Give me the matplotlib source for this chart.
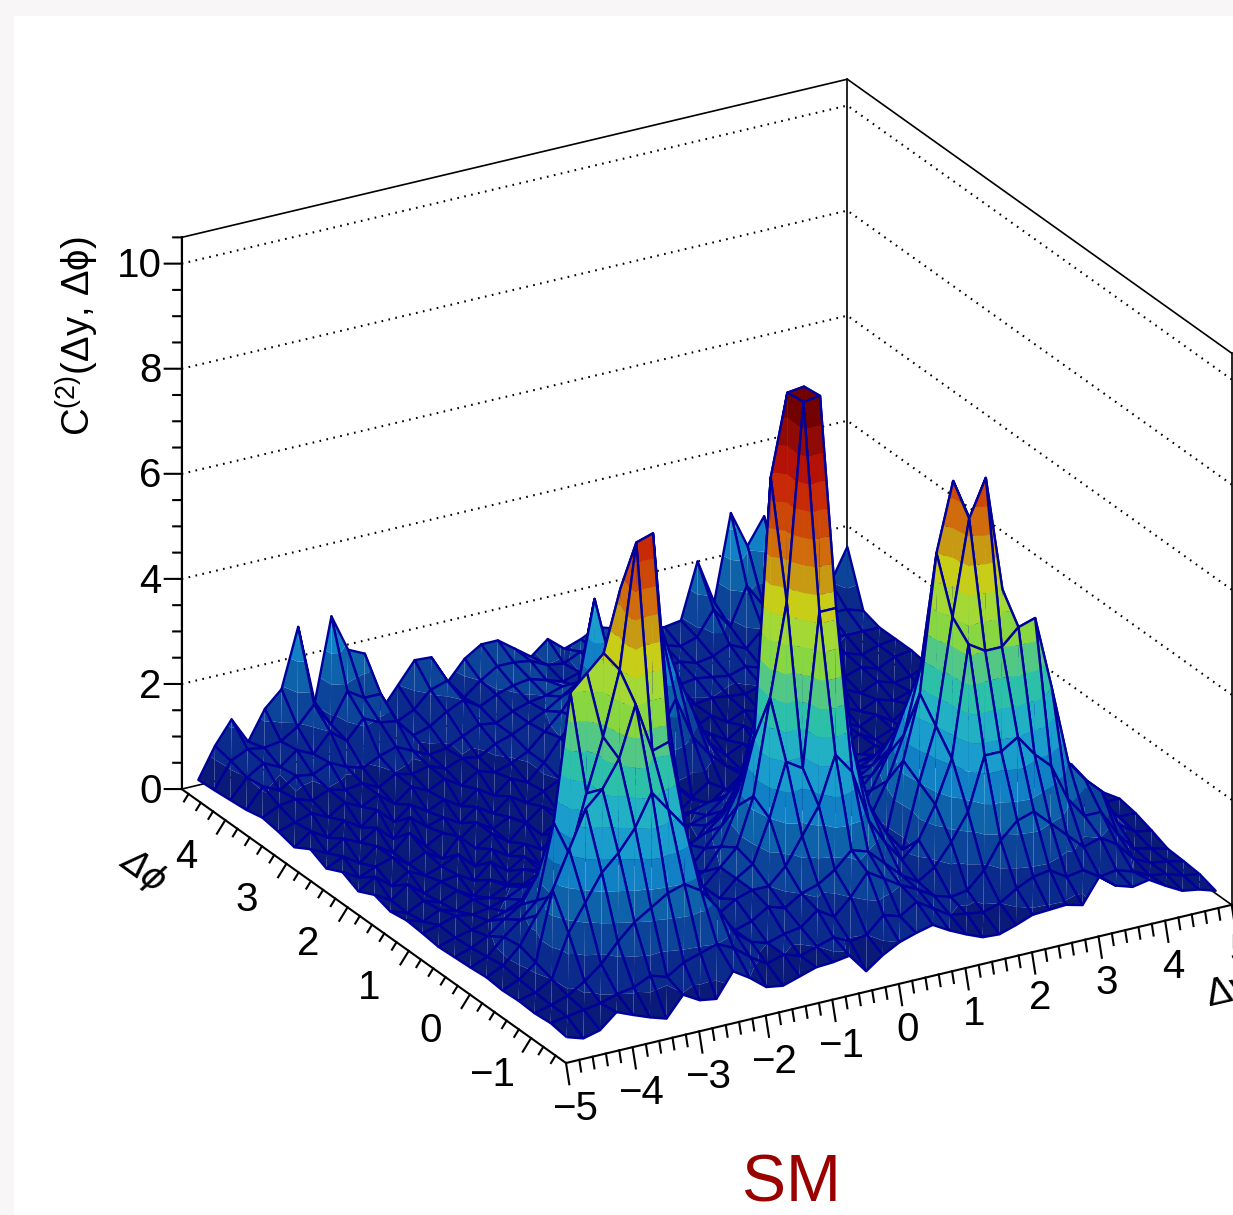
#!/usr/bin/env python3
import numpy as np
import matplotlib
matplotlib.use("Agg")
import matplotlib.pyplot as plt
from matplotlib.patches import Rectangle
from mpl_toolkits.mplot3d import proj3d
from mpl_toolkits.mplot3d.art3d import Poly3DCollection, Line3DCollection

plt.rcParams['font.family'] = ['Liberation Sans', 'DejaVu Sans']
plt.rcParams['mathtext.fontset'] = 'custom'
plt.rcParams['mathtext.rm'] = 'Liberation Sans'
plt.rcParams['mathtext.it'] = 'Liberation Sans:italic'

W, H = 1233, 1215

# node positions of the surface
dy_nodes = [-5 + 0.25 * k for k in range(1, 41)]
dphi_nodes = [-np.pi / 2 + (np.pi / 12) * k for k in range(1, 25)]

# heights, one list per dphi row, front to back
row01 = [.20,.10,.18,.45,.32,.20,.10,.48,.30,.25, .70,.50,.25,.20,.30,.40,.42,.47,.10,.33, .50,.60,.68,.50,.35,.22,.20,.30,.42,.44, .46,.38,.84,.60,.50,.56,.37,.20,.15,.05]
row02 = [.25,.30,.35,.40,.50,.55,.70,.60,.80,.90, 1.0,.85,.60,.40,.50,.40,.50,.60,.45,.50, .80,.70,.90,.70,.50,.45,.40,.50,.70,.85, .90,.70,.75,.55,.60,.50,.35,.30,.20,.15]
row03 = [.22,.30,.40,.60,.85,1.2,1.5,1.7,1.9,2.0, 1.8,1.4,.85,.60,.50,.60,.65,.90,.70,1.0, 1.4,1.2,1.0,.85,.65,.55,.60,.90,1.4,1.7, 1.8,1.5,1.2,.90,1.0,.80,.45,.30,.25,.18]
row04 = [.24,.32,.50,1.3,1.8,2.3,2.6,3.0,3.6,3.2, 2.8,1.4,.90,.60,.70,.90,.80,1.0,1.1,1.3, 1.6,1.5,1.2,.90,.70,.90,1.3,1.8,2.8,2.8, 3.0,2.6,2.3,1.6,1.2,1.2,.70,.35,.28,.20]
row05 = [.22,.35,.60,1.9,2.6,3.3,3.6,4.1,5.06,4.1, 4.2,1.5,.90,.70,.90,1.0,1.0,1.3,1.8,2.3, 3.2,2.8,1.8,1.3,.90,1.2,1.8,2.6,4.7,4.5, 4.5,4.8,4.9,3.5,2.0,1.6,1.3,.60,.38,.33]
row06 = [.25,.40,.70,1.2,1.5,2.2,3.3,4.3,5.5,7.85, 7.95,4.2,2.0,1.0,.70,1.0,1.2,2.0,3.0,2.8, 5.7,5.7,3.0,1.8,1.2,.80,2.0,3.0,5.0,6.8, 7.5,5.3,4.0,2.8,1.6,1.1,.80,.55,.45,.44]
row07 = [.22,.35,.65,.90,1.2,2.6,5.0,5.3,5.6,6.75, 7.1,4.9,2.3,1.1,.70,1.0,1.3,2.2,4.0,5.75, 9.48,9.52,3.8,2.2,1.3,.90,2.2,3.4,6.0,7.3, 6.5,4.8,3.4,2.4,1.5,1.2,.70,.55,.50,.50]
row08 = [.20,.30,.45,.70,.90,1.4,2.2,3.0,3.4,3.8, 3.8,2.8,1.6,.90,.60,.70,1.1,1.8,3.0,7.9, 9.44,9.48,6.0,2.5,1.5,1.0,1.6,2.4,3.6,4.8, 5.0,4.0,3.0,1.8,1.3,.90,.60,.50,.45,.40]
row09 = [.18,.28,.35,.45,.55,.70,.90,1.2,1.6,1.9, 2.0,1.9,1.4,.90,.60,.50,.85,1.2,1.8,2.8, 7.5,6.5,3.0,1.6,1.0,.80,1.2,1.8,2.6,3.1, 3.5,2.8,2.2,1.5,1.0,.70,.50,.45,.40,.40]
row10 = [.22,.30,.40,.35,.40,.50,.65,.70,.90,1.1, 1.2,1.1,.80,.60,.45,.35,.70,.85,1.1,1.6, 2.8,2.6,1.7,1.1,.80,.65,.90,1.2,1.6,2.2, 2.4,2.0,1.5,1.0,.75,.55,.40,.50,.35,.50]
row11 = [.25,.15,.30,.20,.35,.30,.45,.40,.55,.60, .70,.60,.50,.35,.25,.15,.40,.30,.70,.90, 1.4,1.5,1.0,.70,.55,.50,.70,.90,1.1,1.5, 1.5,1.3,1.0,.70,.55,.40,.35,.30,.40,.35]
row12 = [.20,.10,.25,.15,.30,.12,.35,.20,.40,.30, .50,.25,.40,.15,.30,.10,.35,.20,.50,.60, .85,.90,.70,.50,.40,.35,.50,.65,.80,.95, 1.0,.85,.70,.50,.40,.30,.15,.30,.12,.30]
row13 = [.30,.12,.35,.10,.25,.30,.12,.40,.15,.35, .10,.45,.15,.30,.12,.35,.15,.30,.20,.45, .55,.60,.50,.20,.40,.15,.40,.25,.55,.65, .70,.60,.50,.20,.35,.15,.30,.12,.30,.25]
row14 = [.15,.35,.10,.30,.15,.25,.40,.10,.35,.15, .30,.12,.35,.20,.70,.10,.30,.12,.35,.15, .40,.20,.45,.15,.30,.12,.35,.15,.40,.50, .50,.30,.40,.15,.30,.10,.25,.12,.25,.30]
row15 = [.30,.12,.25,.35,.15,.30,.10,.45,.15,.35, .12,.40,.10,.30,.45,.12,.35,.15,.45,.25, .45,.15,.35,.10,.35,.12,.30,.10,.35,.20, .40,.15,.30,.12,.30,.10,.30,.12,.20,.30]
row16 = [.15,.30,.10,.35,.15,.45,.12,.30,.10,.35, .15,.30,.12,.35,.15,.35,.50,.80,.95,1.1, 1.2,1.8,1.0,.60,.30,.12,.30,.10,.30,.15, .35,.12,.30,.12,.25,.10,.25,.12,.25,.35]
row17 = [.30,.15,.35,.20,.40,.12,.45,.20,.30,.12, .35,.15,.40,.20,.35,.50,.90,1.2,1.6,2.0, 2.4,3.0,2.0,1.2,.50,.20,.35,.15,.35,.12, .40,.15,.30,.15,.30,.10,.35,.15,.35,.30]
row18 = [.12,.35,.15,.40,.20,.45,.15,.40,.20,.35, .15,.40,.20,.45,.30,.60,1.0,1.3,1.8,2.2, 1.7,1.4,1.0,.60,.30,.40,.20,.40,.15,.35, .20,.40,.15,.30,.15,.30,.20,.30,.15,.40]
row19 = [.20,.30,.40,.25,.45,.30,.45,.20,.45,.30, .45,.25,.45,.35,.45,.60,.90,1.2,1.6,3.2, 1.5,1.1,.80,.60,.45,.30,.45,.25,.40,.30, .45,.20,.40,.25,.35,.20,.35,.25,.30,.45]
row20 = [.25,.40,.45,.35,.48,.40,.45,.30,.48,.40, .48,.35,.48,.42,.60,.70,.85,1.0,1.2,1.4, 1.2,.90,.80,.65,.55,.50,.45,.50,.45,.42, .50,.42,.48,.40,.45,.30,.40,.30,.45,.50]
row21 = [.18,.55,.40,.60,.55,.70,.55,.45,.60,.70, .55,.40,.45,.60,.75,.70,.85,.95,1.0,1.1, 1.0,.90,.85,.75,.70,.65,.60,.65,.60,.55, .65,.55,.70,.55,.60,.40,.45,.35,.45,.50]
row22 = [.15,.50,.70,.55,.80,.65,1.0,.75,1.1,.95, .90,.55,.65,.85,1.0,.80,.95,1.05,1.1,1.0, .90,1.0,.95,.85,.80,.75,.70,.75,.65,.70, .85,.70,1.0,.80,.85,.60,.55,.50,.50,.50]
row23 = [.12,.60,.75,.70,.75,.95,1.3,.85,1.4,1.2, 1.2,.60,.75,1.05,1.15,.75,1.0,1.2,1.2,1.15, 1.0,.95,1.1,1.0,.95,.90,.85,.85,.75,.85, 1.3,.90,1.6,1.15,1.4,.85,.75,.70,.70,.60]
row24 = [.10,.67,1.1,.60,1.15,1.45,2.56,1.05,2.61,1.9, 1.75,.60,1.0,1.4,1.38,.84,1.2,1.4,1.4,1.17, .94,1.2,.94,1.05,1.2,1.1,1.0,.95,.90,.95, 2.0,1.15,2.77,2.07,2.56,1.5,1.3,1.0,1.0,1.6]

heights = np.array([row01, row02, row03, row04, row05, row06, row07, row08,
                    row09, row10, row11, row12, row13, row14, row15, row16,
                    row17, row18, row19, row20, row21, row22, row23, row24])

band_colors = ['#0a1a78', '#0a2a8c', '#0b4498', '#0d62aa', '#1180c4', '#1a9ccc',
               '#22b0c4', '#2cc0a8', '#52c884', '#88d640', '#a4d834', '#c8ce18',
               '#c89a14', '#d06c0c', '#cc4808', '#c82a08', '#b41206', '#900a06',
               '#720202', '#720202']
mesh_color = '#00009a'

xmin, xmax = -5.0, 5.0
ymin, ymax = -np.pi / 2, 3 * np.pi / 2
zmax = 10.5

z_major = [0, 2, 4, 6, 8, 10]
phi_major = [-1, 0, 1, 2, 3, 4]
y_major = [-5, -4, -3, -2, -1, 0, 1, 2, 3, 4, 5]


def clip_z(poly, level, keep_above):
    out = []
    n = len(poly)
    for k in range(n):
        a = poly[k]
        b = poly[(k + 1) % n]
        ina = a[2] >= level if keep_above else a[2] <= level
        inb = b[2] >= level if keep_above else b[2] <= level
        if ina:
            out.append(a)
        if ina != inb:
            t = (level - a[2]) / (b[2] - a[2])
            out.append((a[0] + t * (b[0] - a[0]), a[1] + t * (b[1] - a[1]), level))
    return out


def split_bands(tri):
    polys, cols = [], []
    zs = [p[2] for p in tri]
    for b in range(int(min(zs) / 0.5), min(int(max(zs) / 0.5), 19) + 1):
        piece = clip_z(clip_z(tri, b * 0.5, True), (b + 1) * 0.5, False)
        if len(piece) >= 3:
            polys.append(piece)
            cols.append(band_colors[b])
    return polys, cols


fig = plt.figure(figsize=(W / 100, H / 100), dpi=100, facecolor='#f8f6f7')
fig.patches.append(Rectangle((14 / W, 0), 1, 1 - 16 / H, transform=fig.transFigure,
                             facecolor='white', edgecolor='none', figure=fig, zorder=-5))

ax = fig.add_axes([0, 0, 1, 1], projection='3d', proj_type='ortho', computed_zorder=False)
ax.view_init(elev=24.3, azim=-120)
ax.set_box_aspect((1, 1, 0.7875))
ax.set_xlim(xmin, xmax, view_margin=0)
ax.set_ylim(ymin, ymax, view_margin=0)
ax.set_zlim(0, zmax, view_margin=0)
ax.set_axis_off()
ax.patch.set_visible(False)


def to_px(x, y, z):
    ax.apply_aspect()
    X, Y, _ = proj3d.proj_transform(x, y, z, ax.get_proj())
    return ax.transData.transform((X, Y))


# fit the axes so the box corners land where they are in the picture
size = 1000.0
left, bottom = 100.0, 100.0
for _ in range(3):
    ax.set_position([left / W, bottom / H, size / W, size / H])
    a = to_px(xmin, ymax, 0)
    b = to_px(xmax, ymin, 0)
    size *= (1231 - 181) / (b[0] - a[0])
    ax.set_position([left / W, bottom / H, size / W, size / H])
    a = to_px(xmin, ymin, 0)
    left += 566 - a[0]
    bottom += (H - 1063) - a[1]

# box and grid behind the surface
black = dict(color='black', lw=1.2, clip_on=False, zorder=1)
ax.plot([xmin, xmin, xmax, xmax], [ymax, ymax, ymax, ymin], [0, zmax, zmax, zmax], **black)
ax.plot([xmax, xmax], [ymax, ymax], [0, zmax], **black)
ax.plot([xmax, xmax], [ymin, ymin], [0, zmax], **black)
ax.plot([xmin, xmax, xmax], [ymax, ymax, ymin], [0, 0, 0], **black)
for z in z_major[1:]:
    ax.plot([xmin, xmax, xmax], [ymax, ymax, ymin], [z, z, z], color='black', lw=1.5,
            ls=(0, (0.8, 2.6)), clip_on=False, zorder=1)

# surface, painted cell by cell from the far corner to the near one
ny, nx = heights.shape
order = 10
for j in range(ny - 2, -1, -1):
    for i in range(nx - 2, -1, -1):
        p00 = (dy_nodes[i], dphi_nodes[j], heights[j, i])
        p10 = (dy_nodes[i + 1], dphi_nodes[j], heights[j, i + 1])
        p01 = (dy_nodes[i], dphi_nodes[j + 1], heights[j + 1, i])
        p11 = (dy_nodes[i + 1], dphi_nodes[j + 1], heights[j + 1, i + 1])
        polys, cols = [], []
        for tri in ([p00, p10, p11], [p00, p11, p01]):
            pp, cc = split_bands(tri)
            polys += pp
            cols += cc
        faces = Poly3DCollection(polys, facecolors=cols, edgecolors='none', linewidths=0,
                                 zorder=order)
        ax.add_collection3d(faces, autolim=False)
        edge = Line3DCollection([[p00, p10, p11, p01, p00]], colors=mesh_color,
                                linewidths=1.7, zorder=order + 0.5)
        ax.add_collection3d(edge, autolim=False)
        faces.set_clip_on(False)
        edge.set_clip_on(False)
        order += 1

# front axes, ticks and labels
front = dict(color='black', lw=1.5, clip_on=False, zorder=order + 1)
ax.plot([xmin, xmin], [ymax, ymin], [0, 0], **front)
ax.plot([xmin, xmax], [ymin, ymin], [0, 0], **front)
ax.plot([xmin, xmin], [ymax, ymax], [0, zmax], **front)

for z in np.arange(0, 10.51, 0.5):
    f = 1.0 if abs(z / 2 - round(z / 2)) < 1e-6 else 0.5
    ax.plot([xmin, xmin - 0.255 * f], [ymax, ymax], [z, z + 0.077 * f], **front)
for p in np.arange(-1.4, 4.61, 0.2):
    f = 1.0 if abs(p - round(p)) < 1e-6 else 0.55
    ax.plot([xmin, xmin - 0.125 * f], [p, p], [0, -0.22 * f], **front)
for y in np.arange(-5, 5.01, 0.2):
    f = 1.0 if abs(y - round(y)) < 1e-6 else 0.55
    ax.plot([y, y], [ymin, ymin - 0.054 * f], [0, -0.36 * f], **front)

txt = dict(fontsize=29, color='black', clip_on=False, zorder=order + 2)
for z in z_major:
    ax.text(xmin - 0.30, ymax, z + 0.04, str(z), ha='right', va='center', **txt)
for p in phi_major:
    ax.text(xmin - 0.59, p, -0.52, str(p).replace('-', '\u2212'), ha='center', va='center', **txt)
for y in y_major:
    ax.text(y, ymin - 0.14, -0.76, str(y).replace('-', '\u2212'), ha='center', va='center', **txt)

fig.text(144 / W, 1 - 870 / H, '\u0394\u03d5', fontsize=25, style='italic', rotation=-36,
         ha='center', va='center', family=['DejaVu Sans'])
fig.text(1209 / W, 1 - 1006 / H, '\u0394y', fontsize=28, rotation=13, ha='left', va='baseline',
         rotation_mode='anchor')
fig.text(77 / W, 1 - 336 / H, 'C$^{(2)}$(\u0394y, \u0394\u03d5)', fontsize=27.5, rotation=90,
         ha='center', va='center')
fig.text(791 / W, 1 - 1184 / H, 'SM', fontsize=47.5, color='#990000', ha='center', va='center')

fig.savefig('out.png', dpi=100, facecolor=fig.get_facecolor())
